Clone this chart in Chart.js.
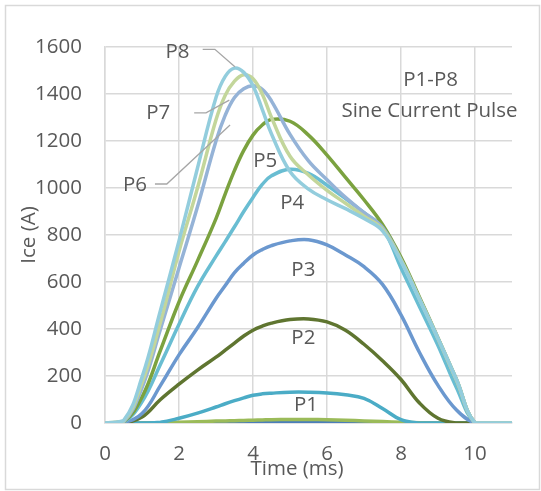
<!DOCTYPE html>
<html>
<head>
<meta charset="utf-8">
<script src="https://cdn.jsdelivr.net/npm/chart.js@4.4.0/dist/chart.umd.min.js"></script>
<style>
  html, body { margin: 0; padding: 0; background: #fff; }
</style>
</head>
<body>
<canvas id="chart" width="541" height="491"></canvas>
<script>
// time axis (ms), shared by every pulse
const times = [0, 0.5, 1, 1.5, 2, 2.5, 3, 3.25, 3.5, 3.75, 4, 4.25, 4.5, 5, 5.5, 6, 6.5, 7, 7.5, 8, 8.5, 9, 9.5, 10, 10.5, 11];

// collector-emitter current Ice (A)
const pulseA = [0, 0, 0, 0, 0, 0, 1, 1, 1, 2, 2, 2, 2, 3, 3, 3, 2, 2, 1, 1, 0, 0, 0, 0, 0, 0];
const pulseB = [0, 0, 0, 1, 3, 5, 8, 9, 10, 11, 12, 13, 14, 15, 15, 14, 12, 9, 6, 3, 1, 0, 0, 0, 0, 0];
const p1 = [0, 0, 0, 3, 20, 42, 68, 82, 95, 107, 118, 124, 127, 131, 131, 128, 120, 105, 62, 14, 0, 0, 0, 0, 0, 0];
const p2 = [0, 0, 25, 100, 165, 225, 280, 310, 340, 370, 395, 412, 425, 440, 443, 430, 395, 335, 265, 185, 85, 20, 0, 0, 0, 0];
const p3 = [0, 2, 40, 160, 290, 405, 530, 585, 640, 680, 715, 738, 755, 775, 780, 758, 715, 665, 590, 460, 300, 160, 55, 0, 0, 0];
const p4 = [0, 3, 90, 250, 420, 580, 710, 772, 835, 900, 960, 1015, 1052, 1080, 1062, 1012, 955, 895, 830, 660, 495, 330, 150, 0, 0, 0];
const p5 = [0, 5, 110, 310, 515, 690, 870, 975, 1075, 1160, 1225, 1268, 1292, 1284, 1225, 1140, 1045, 950, 845, 705, 535, 362, 185, 0, 0, 0];
const p6 = [0, 5, 150, 400, 660, 920, 1200, 1310, 1385, 1422, 1435, 1420, 1370, 1228, 1115, 1035, 960, 895, 833, 695, 530, 360, 183, 0, 0, 0];
const p7 = [0, 8, 170, 430, 730, 1000, 1290, 1395, 1455, 1482, 1465, 1400, 1300, 1135, 1055, 990, 935, 880, 825, 693, 528, 358, 182, 0, 0, 0];
const p8 = [0, 10, 195, 480, 775, 1085, 1385, 1475, 1510, 1492, 1435, 1335, 1230, 1070, 995, 950, 912, 870, 818, 688, 525, 360, 185, 0, 0, 0];

const series = [pulseA, pulseB, p1, p2, p3, p4, p5, p6, p7, p8];
const colors = ['#4a7ebb', '#9bbb59', '#4bacc6', '#5f7530', '#6b98cf', '#69bdd2', '#7ba23f', '#95b3d7', '#c3d69b', '#93cddd'];

const FONT = '"Open Sans", "Liberation Sans", sans-serif';
const TXT = '#595959';

// in-plot labels, placed in data units (t in ms, v in A)
const notes = [
  { text: 'P1', t: 5.43, v: 74 },
  { text: 'P2', t: 5.36, v: 360 },
  { text: 'P3', t: 5.36, v: 651 },
  { text: 'P4', t: 5.06, v: 935 },
  { text: 'P5', t: 4.33, v: 1116 },
  { text: 'P6', t: 0.81, v: 1011 },
  { text: 'P7', t: 1.44, v: 1318 },
  { text: 'P8', t: 1.96, v: 1577 },
  { text: 'P1-P8', t: 8.8, v: 1460 },
  { text: 'Sine Current Pulse', t: 8.77, v: 1329 }
];
const leaders = [
  [[1.35, 1017], [1.67, 1017], [3.38, 1268]],
  [[2.41, 1320], [2.73, 1320], [3.36, 1374]],
  [[2.64, 1590], [2.97, 1590], [3.51, 1516]]
];

const datasets = series.map((vals, i) => ({
  data: vals.map((v, k) => ({ x: times[k], y: v })),
  borderColor: colors[i],
  borderWidth: 3.5,
  pointRadius: 0,
  fill: false,
  tension: 0.4,
  order: series.length - i
}));

const frame = {
  id: 'frame',
  beforeDraw(chart) {
    const c = chart.ctx;
    c.save();
    c.fillStyle = '#fff';
    c.fillRect(0, 0, chart.width, chart.height);
    c.strokeStyle = '#d9d9d9';
    c.lineWidth = 1.5;
    c.strokeRect(5.5, 5.5, chart.width - 7, chart.height - 7);
    c.restore();
  },
  afterDatasetsDraw(chart) {
    const c = chart.ctx;
    const xs = chart.scales.x, ys = chart.scales.y;
    c.save();
    c.strokeStyle = '#a6a6a6';
    c.lineWidth = 1.3;
    leaders.forEach(pts => {
      c.beginPath();
      pts.forEach((p, k) => {
        const px = xs.getPixelForValue(p[0]), py = ys.getPixelForValue(p[1]);
        if (k === 0) c.moveTo(px, py); else c.lineTo(px, py);
      });
      c.stroke();
    });
    c.fillStyle = TXT;
    c.font = '20.5px ' + FONT;
    c.textAlign = 'center';
    c.textBaseline = 'middle';
    notes.forEach(n => {
      c.fillText(n.text, xs.getPixelForValue(n.t), ys.getPixelForValue(n.v));
    });
    // x axis title
    const a = chart.chartArea;
    c.fillText('Time (ms)', a.left + (a.right - a.left) * 0.472, 469);
    c.restore();
  }
};

new Chart(document.getElementById('chart'), {
  type: 'line',
  data: { datasets },
  plugins: [frame],
  options: {
    responsive: false,
    animation: false,
    layout: { padding: { left: 5, right: 29, top: 47, bottom: 5 } },
    plugins: { legend: { display: false }, tooltip: { enabled: false } },
    scales: {
      x: {
        type: 'linear',
        min: 0,
        max: 11,
        ticks: { stepSize: 2, includeBounds: false, color: TXT, font: { family: FONT, size: 20.5 }, padding: 19 },
        grid: { color: '#d9d9d9', lineWidth: 1.5, drawTicks: false },
        border: { color: '#d9d9d9', width: 1.5 },
        afterFit(s) { s.height = 63; }
      },
      y: {
        min: 0,
        max: 1600,
        ticks: { stepSize: 200, color: TXT, font: { family: FONT, size: 20.5 }, padding: 23, callback: v => String(v) },
        grid: { color: '#d9d9d9', lineWidth: 1.5, drawTicks: false },
        border: { color: '#d9d9d9', width: 1.5 },
        title: { display: true, text: 'Ice (A)', color: TXT, font: { family: FONT, size: 20.5 }, padding: { top: 12, bottom: 0 } },
        afterFit(s) { s.width = 100; }
      }
    }
  }
});
</script>
</body>
</html>
